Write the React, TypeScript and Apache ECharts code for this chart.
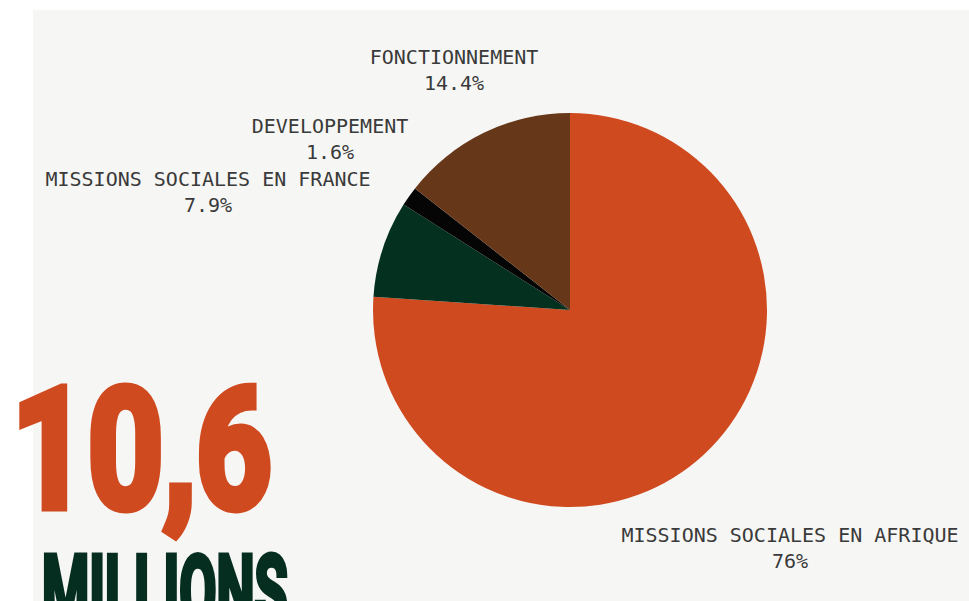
import React, { useEffect, useRef } from "react";
import * as echarts from "echarts";

const categories = [
  "MISSIONS SOCIALES EN AFRIQUE",
  "MISSIONS SOCIALES EN FRANCE",
  "DEVELOPPEMENT",
  "FONCTIONNEMENT",
];
const values = [76, 7.9, 1.6, 14.4];
const colors = ["#d04a20", "#04301f", "#050505", "#673719"];
const labelSpots = [
  [790, 548],
  [208, 192],
  [330, 139],
  [454, 70],
];
const bigNumber = "10,6";
const bigUnit = "MILLIONS";

export default function App() {
  const ref = useRef<HTMLDivElement>(null);
  useEffect(() => {
    const chart = echarts.init(ref.current!, null, { renderer: "svg" });
    chart.setOption({
      animation: false,
      backgroundColor: "#ffffff",
      graphic: [
        {
          type: "rect",
          z: -10,
          shape: { x: 33, y: 10, width: 936, height: 591 },
          style: { fill: "#f6f6f4" },
        },
        {
          type: "text",
          z: 10,
          x: 12,
          y: 366,
          scaleY: 1.27,
          style: {
            text: bigNumber,
            font: "bold 132px Roboto",
            fill: "#d04a20",
            stroke: "#d04a20",
            lineWidth: 7,
            textVerticalAlign: "top",
          },
        },
        {
          type: "text",
          z: 10,
          x: 42,
          y: 542,
          scaleY: 1.8,
          style: {
            text: bigUnit,
            font: "bold 54px Roboto",
            fill: "#062e20",
            stroke: "#062e20",
            lineWidth: 3,
            textVerticalAlign: "top",
          },
        },
      ],
      series: [
        {
          type: "pie",
          center: [570, 310],
          radius: 197,
          startAngle: 90,
          clockwise: true,
          data: categories.map((name, i) => ({
            name,
            value: values[i],
            itemStyle: { color: colors[i] },
          })),
          label: {
            show: true,
            position: "outside",
            formatter: "{b}\n{c}%",
            fontFamily: "DejaVu Sans Mono",
            fontSize: 20,
            lineHeight: 26,
            color: "#3a3a3a",
            align: "center",
            overflow: "none",
            width: 400,
          },
          labelLine: { show: false },
          labelLayout: (params: any) => ({
            x: labelSpots[params.dataIndex][0],
            y: labelSpots[params.dataIndex][1],
            align: "center",
            verticalAlign: "middle",
          }),
          emphasis: { disabled: true },
        },
      ],
    });
    return () => chart.dispose();
  }, []);
  return (
    <div
      ref={ref}
      style={{ position: "fixed", left: 0, top: 0, width: 969, height: 601 }}
    />
  );
}
